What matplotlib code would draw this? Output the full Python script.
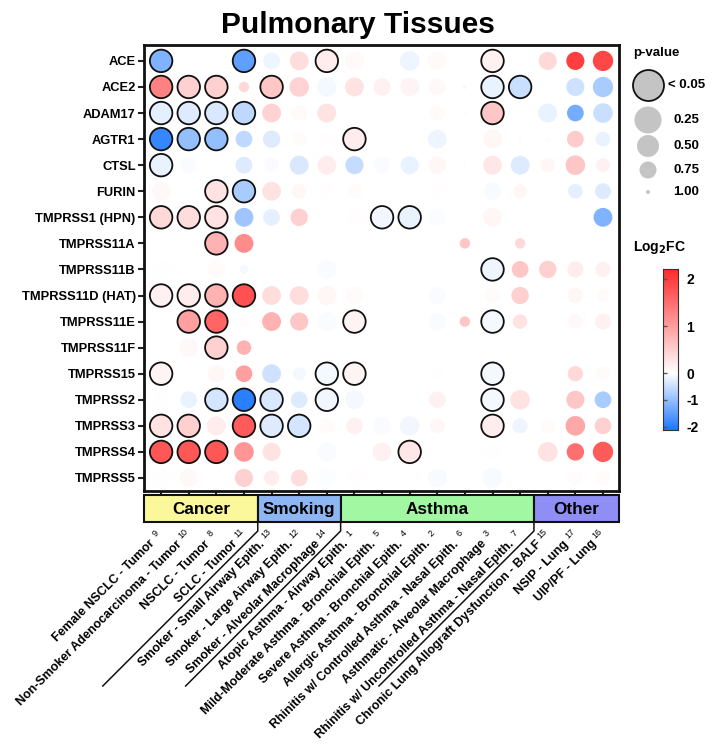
import numpy as np
import matplotlib
matplotlib.use('Agg')
import matplotlib.pyplot as plt
from matplotlib.colors import LinearSegmentedColormap, TwoSlopeNorm
from matplotlib.patches import Rectangle
from matplotlib.lines import Line2D
from matplotlib.transforms import IdentityTransform, blended_transform_factory

plt.rcParams['font.family'] = ['Liberation Sans', 'DejaVu Sans']
plt.rcParams['font.weight'] = 'bold'

genes = ['ACE', 'ACE2', 'ADAM17', 'AGTR1', 'CTSL', 'FURIN', 'TMPRSS1 (HPN)',
         'TMPRSS11A', 'TMPRSS11B', 'TMPRSS11D (HAT)', 'TMPRSS11E', 'TMPRSS11F',
         'TMPRSS15', 'TMPRSS2', 'TMPRSS3', 'TMPRSS4', 'TMPRSS5']

tissues = ['Female NSCLC - Tumor', 'Non-Smoker Adenocarcinoma - Tumor', 'NSCLC - Tumor',
           'SCLC - Tumor', 'Smoker - Small Airway Epith.', 'Smoker - Large Airway Epith.',
           'Smoker - Alveolar Macrophage', 'Atopic Asthma - Airway Epith.',
           'Mild-Moderate Asthma - Bronchial Epith.', 'Severe Asthma - Bronchial Epith.',
           'Allergic Asthma - Bronchial Epith.', 'Rhinitis w/ Controlled Asthma - Nasal Epith.',
           'Asthmatic - Alveolar Macrophage', 'Rhinitis w/ Uncontrolled Asthma - Nasal Epith.',
           'Chronic Lung Allograft Dysfunction - BALF', 'NSIP - Lung', 'UIP/PF - Lung']
refs = ['9', '10', '8', '11', '13', '12', '14', '1', '5', '4', '2', '6', '3', '7', '15', '17', '16']

groups = ['Cancer', 'Smoking', 'Asthma', 'Other']
group_sizes = [4, 3, 7, 3]
group_colors = ['#FAF89A', '#8DB6F2', '#A2F7A2', '#8E8EF5']

n = np.nan
# log2 fold change, one row per gene, one column per tissue
log2fc = [
    [-1.2, n, n, -1.5, -0.15, 0.35, 0.2, 0.06, n, -0.15, 0.06, n, 0.15, n, 0.4, 2.0, 1.9],
    [1.3, 0.5, 0.5, 0.4, 0.6, 0.45, -0.1, 0.3, 0.15, 0.12, 0.08, 0.1, -0.2, -0.5, n, -0.45, -0.8],
    [-0.25, -0.3, -0.35, -0.6, 0.45, 0.05, 0.3, n, n, n, 0.05, 0.05, 0.6, n, -0.2, -1.3, -0.5],
    [-1.9, -1.0, -1.0, -0.6, -0.3, 0.05, 0.02, 0.2, n, n, -0.15, n, 0.1, 0.05, 0.05, 0.55, -0.2],
    [-0.2, -0.05, n, -0.3, -0.05, -0.35, 0.2, -0.55, -0.06, -0.2, 0.1, 0.05, 0.25, -0.3, 0.1, 0.6, 0.15],
    [0.08, n, 0.3, -0.8, 0.3, 0.1, 0.02, 0.05, n, n, 0.03, 0.02, -0.08, 0.1, 0.02, -0.25, -0.3],
    [0.4, 0.35, 0.3, -0.9, -0.25, 0.5, n, 0.02, -0.12, -0.2, -0.04, 0.02, 0.1, n, 0.02, n, -1.2],
    [n, n, 0.8, 1.2, n, n, n, n, n, n, n, 0.6, n, 0.4, n, n, n],
    [0.03, n, 0.05, -0.1, n, n, -0.05, n, n, n, n, 0.02, -0.15, 0.6, 0.5, 0.2, 0.15],
    [0.15, 0.2, 0.8, 1.8, 0.35, 0.35, 0.1, 0.05, n, n, -0.05, n, 0.05, 0.5, 0.02, 0.1, 0.05],
    [n, 1.0, 1.6, 0.05, 0.8, 0.6, -0.05, 0.12, n, n, -0.05, 0.6, -0.1, 0.3, n, 0.08, 0.15],
    [n, 0.08, 0.5, 0.8, n, n, n, n, n, n, n, n, n, n, n, n, n],
    [0.12, n, 0.1, 1.0, -0.45, -0.1, -0.1, 0.12, n, n, 0.02, n, -0.1, n, n, 0.4, 0.05],
    [0.02, -0.2, -0.4, -2.0, -0.35, -0.3, -0.12, -0.1, n, n, 0.15, 0.02, -0.1, 0.3, n, 0.6, -0.8],
    [0.3, 0.5, 0.2, 1.7, -0.3, -0.4, 0.05, 0.15, -0.05, -0.12, 0.1, n, 0.2, -0.15, 0.05, 0.9, 0.5],
    [1.75, 1.75, 1.75, 1.1, 0.3, n, -0.05, n, 0.15, 0.25, n, 0.02, 0.03, 0.02, 0.3, 1.5, 1.7],
    [0.02, 0.08, n, 0.5, 0.2, 0.35, -0.03, 0.02, n, n, -0.08, n, -0.08, n, n, 0.05, 0.05],
]
# p-values, same layout
pvalue = [
    [0.01, n, n, 0.01, 0.45, 0.3, 0.01, 0.3, n, 0.25, 0.35, n, 0.01, n, 0.35, 0.35, 0.2],
    [0.01, 0.01, 0.01, 0.8, 0.01, 0.25, 0.25, 0.3, 0.4, 0.3, 0.45, 0.97, 0.01, 0.01, n, 0.35, 0.2],
    [0.01, 0.01, 0.01, 0.01, 0.3, 0.5, 0.3, n, n, n, 0.5, 0.97, 0.01, n, 0.3, 0.45, 0.25],
    [0.01, 0.01, 0.01, 0.45, 0.4, 0.6, 0.6, 0.01, n, n, 0.3, n, 0.3, 0.97, 0.97, 0.45, 0.6],
    [0.01, 0.5, n, 0.45, 0.6, 0.3, 0.3, 0.35, 0.45, 0.35, 0.4, 0.97, 0.3, 0.3, 0.6, 0.25, 0.65],
    [0.3, n, 0.01, 0.01, 0.3, 0.6, 0.7, 0.6, n, n, 0.75, 0.97, 0.4, 0.65, 0.97, 0.6, 0.5],
    [0.01, 0.01, 0.01, 0.3, 0.45, 0.4, n, 0.45, 0.01, 0.01, 0.45, 0.97, 0.3, n, 0.97, n, 0.3],
    [n, n, 0.01, 0.3, n, n, n, n, n, n, n, 0.8, n, 0.8, n, n, n],
    [0.4, n, 0.35, 0.85, n, n, 0.3, n, n, n, n, 0.97, 0.01, 0.45, 0.4, 0.5, 0.55],
    [0.01, 0.01, 0.01, 0.01, 0.3, 0.3, 0.3, 0.4, n, n, 0.45, n, 0.5, 0.4, 0.97, 0.55, 0.7],
    [n, 0.01, 0.01, 0.8, 0.3, 0.35, 0.3, 0.01, n, n, 0.4, 0.8, 0.01, 0.6, n, 0.6, 0.5],
    [n, 0.3, 0.01, 0.6, n, n, n, n, n, n, n, n, n, n, n, n, n],
    [0.01, n, 0.4, 0.45, 0.3, 0.7, 0.01, 0.01, n, n, 0.8, n, 0.01, n, n, 0.55, 0.6],
    [0.6, 0.45, 0.01, 0.01, 0.01, 0.45, 0.01, 0.3, n, n, 0.45, 0.97, 0.01, 0.25, n, 0.35, 0.45],
    [0.01, 0.01, 0.3, 0.01, 0.01, 0.01, 0.5, 0.45, 0.35, 0.25, 0.6, n, 0.01, 0.55, 0.6, 0.25, 0.45],
    [0.01, 0.01, 0.01, 0.25, 0.35, n, 0.3, n, 0.3, 0.01, n, 0.97, 0.5, 0.97, 0.25, 0.4, 0.2],
    [0.4, 0.35, n, 0.35, 0.55, 0.45, 0.35, 0.45, n, n, 0.3, n, 0.25, n, n, 0.6, 0.6],
]

legend_p = ['< 0.05', '0.25', '0.50', '0.75', '1.00']
cbar_ticks = [-2, -1, 0, 1, 2]

# colour scale (piecewise, as in the original colorbar)
fc_min, fc_max = -2.12, 2.21
cmap = LinearSegmentedColormap.from_list('bwr2', ['#1E78FF', '#FFFFFF', '#FF2B2B'])
norm = TwoSlopeNorm(vmin=fc_min, vcenter=0, vmax=fc_max)
neg_frac = 0.353

def cbar_pos(v):
    v = np.asarray(v, dtype=float)
    return np.where(v < 0, neg_frac * (v - fc_min) / -fc_min,
                    neg_frac + (1 - neg_frac) * v / fc_max)

def diam_px(p):
    p = np.asarray(p, dtype=float)
    d = np.interp(p, [0.05, 0.25, 0.5, 0.75, 1.0], [1.0, 0.87, 0.71, 0.55, 0.13])
    return 22.5 * d

W, H = 717, 752
fig = plt.figure(figsize=(W / 100, H / 100), dpi=100)

# main dot plot
ax = fig.add_axes([144 / W, 1 - 491 / H, 475 / W, 446 / H])
fc = np.array(log2fc)
pv = np.array(pvalue)
rows, cols = np.nonzero(~np.isnan(fc))
vals = fc[rows, cols]
ps = pv[rows, cols]
sizes = (diam_px(ps) * 0.72) ** 2
sig = ps < 0.05
ax.scatter(cols[~sig], rows[~sig], s=sizes[~sig], c=cmap(norm(vals[~sig])), linewidths=0, zorder=2)
ax.scatter(cols[sig], rows[sig], s=sizes[sig], c=cmap(norm(vals[sig])), edgecolors='#111111',
           linewidths=1.3, zorder=3)
ax.set_xlim(-0.62, len(tissues) - 1 + 0.58)
ax.set_ylim(len(genes) - 0.5, -0.61)
ax.set_yticks(range(len(genes)))
ax.set_yticklabels(genes, fontsize=9.3, fontweight='bold')
ax.set_xticks(range(len(tissues)))
ax.set_xticklabels([])
ax.tick_params(axis='both', direction='out', length=4, width=1.5, color='#222222', pad=2)
for sp in ax.spines.values():
    sp.set_linewidth(2)
    sp.set_color('#111111')

fig.text(358 / W, 1 - 25 / H, 'Pulmonary Tissues', fontsize=21.5, fontweight='bold',
         ha='center', va='center')

# category bar
bax = fig.add_axes([144 / W, 1 - 522 / H, 475 / W, 27 / H])
bax.set_xlim(ax.get_xlim())
bax.set_ylim(0, 1)
bax.axis('off')
edges = np.concatenate([[ax.get_xlim()[0]], np.cumsum(group_sizes)[:-1] - 0.5, [ax.get_xlim()[1]]])
for g, col, x0, x1 in zip(groups, group_colors, edges[:-1], edges[1:]):
    bax.add_patch(Rectangle((x0, 0), x1 - x0, 1, facecolor=col, edgecolor='#111111', linewidth=1.5,
                            clip_on=False))
    bax.text((x0 + x1) / 2, 0.45, g, ha='center', va='center', fontsize=12.3, fontweight='bold')

# rotated tissue labels with reference numbers
tr = blended_transform_factory(bax.transData, bax.transAxes)
for i, (t, r) in enumerate(zip(tissues, refs)):
    bax.text(i - 0.3, -0.75, t, transform=tr, rotation=45, rotation_mode='anchor',
             ha='right', va='center', fontsize=9, fontweight='bold', clip_on=False)
    bax.text(i - 0.2, -0.42, r, transform=tr, rotation=45, rotation_mode='anchor',
             ha='center', va='center', fontsize=6.5, fontweight='normal', clip_on=False)

# diagonal separators under the group boundaries
fig.canvas.draw()
for b in edges[1:-1]:
    xb, yb = bax.transData.transform((b, 0))
    xs = [xb, xb, xb - 155]
    ys = [yb, yb - 9, yb - 9 - 155]
    fig.add_artist(Line2D(xs, ys, transform=IdentityTransform(), color='#111111', linewidth=1.1))

# p-value legend
lax = fig.add_axes([0, 0, 1, 1])
lax.set_xlim(0, W)
lax.set_ylim(H, 0)
lax.axis('off')
lax.text(633, 53, 'p-value', fontsize=9.5, fontweight='bold', va='center', ha='left')
leg_y = [85, 120, 146, 170, 192]
leg_d = [31, 27, 22, 17, 4]
for lbl, yy, d in zip(legend_p, leg_y, leg_d):
    first = lbl.startswith('<')
    lax.scatter([648], [yy], s=(d * 0.72) ** 2, color='#C4C4C4',
                edgecolors='#111111' if first else 'none', linewidths=1.3 if first else 0)
    lax.text(668 if first else 673, yy, lbl, fontsize=9.5, fontweight='bold', va='center', ha='left')

lax.text(633, 248, r'Log$_\mathbf{2}$FC', fontsize=10, fontweight='bold', va='center', ha='left')

# colorbar
cax = fig.add_axes([663 / W, 1 - 430 / H, 15 / W, 161 / H])
pos = np.linspace(0, 1, 400)
vals_bar = np.where(pos < neg_frac, fc_min + pos / neg_frac * -fc_min,
                    (pos - neg_frac) / (1 - neg_frac) * fc_max)
cax.imshow(cmap(norm(vals_bar))[:, None, :], aspect='auto', origin='lower', extent=[0, 1, 0, 1])
cax.set_xticks([])
cax.set_yticks(cbar_pos(cbar_ticks))
cax.set_yticklabels([str(t) for t in cbar_ticks], fontsize=10, fontweight='bold')
cax.tick_params(axis='y', left=True, right=False, labelleft=False, labelright=True,
                direction='in', length=3, width=1, color='#555555', pad=6)
for sp in cax.spines.values():
    sp.set_linewidth(0.8)
    sp.set_color('#333333')

fig.savefig('out.png', dpi=100)
